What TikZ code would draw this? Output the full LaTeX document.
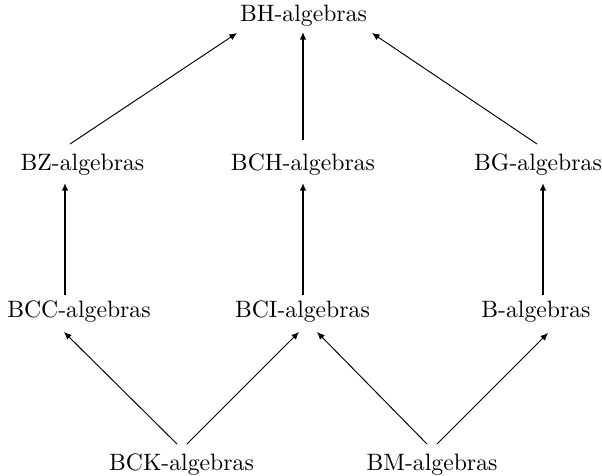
\documentclass[tikz,border=0pt]{standalone}
\usetikzlibrary{arrows.meta}
\begin{document}
\begin{tikzpicture}[x=0.4219pt,y=-0.4219pt,
  alg/.style={anchor=base,inner sep=0pt,font=\normalsize},
  thin arrow/.style={line width=0.4pt,-{Latex[length=3.2pt,width=2.8pt]}},
  thick arrow/.style={line width=0.8pt,-{Latex[length=3.2pt,width=2.8pt]}}]
\useasboundingbox (0,0) rectangle (602,475);
\node[alg] (bh)  at (303.5,21) {BH-algebras};
\node[alg] (bz)  at (82.5,170) {BZ-algebras};
\node[alg] (bch) at (303,170) {BCH-algebras};
\node[alg] (bg)  at (538,170) {BG-algebras};
\node[alg] (bcc) at (79,317) {BCC-algebras};
\node[alg] (bci) at (302.5,317) {BCI-algebras};
\node[alg] (bb)  at (536,317) {B-algebras};
\node[alg] (bck) at (181.5,470) {BCK-algebras};
\node[alg] (bm)  at (432,470) {BM-algebras};
\draw[thin arrow] ([shift={(-12.5,-26)}]bz.base) -- ([shift={(-66.5,12)}]bh.base);
\draw[thick arrow] ([shift={(0,-30)}]bch.base) -- ([shift={(-0.5,11)}]bh.base);
\draw[thin arrow] ([shift={(-1,-26)}]bg.base) -- ([shift={(68.5,12)}]bh.base);
\draw[thick arrow] ([shift={(-14,-22)}]bcc.base) -- ([shift={(-17.5,13)}]bz.base);
\draw[thick arrow] ([shift={(0.5,-22)}]bci.base) -- ([shift={(0,13)}]bch.base);
\draw[thick arrow] ([shift={(7,-22)}]bb.base) -- ([shift={(5,13)}]bg.base);
\draw[thin arrow] ([shift={(-4.5,-26)}]bck.base) -- ([shift={(-15,15)}]bcc.base);
\draw[thin arrow] ([shift={(5.5,-26)}]bck.base) -- ([shift={(-3.5,15)}]bci.base);
\draw[thin arrow] ([shift={(-5,-26)}]bm.base) -- ([shift={(14.5,15)}]bci.base);
\draw[thin arrow] ([shift={(5,-26)}]bm.base) -- ([shift={(12,16)}]bb.base);
\end{tikzpicture}
\end{document}
